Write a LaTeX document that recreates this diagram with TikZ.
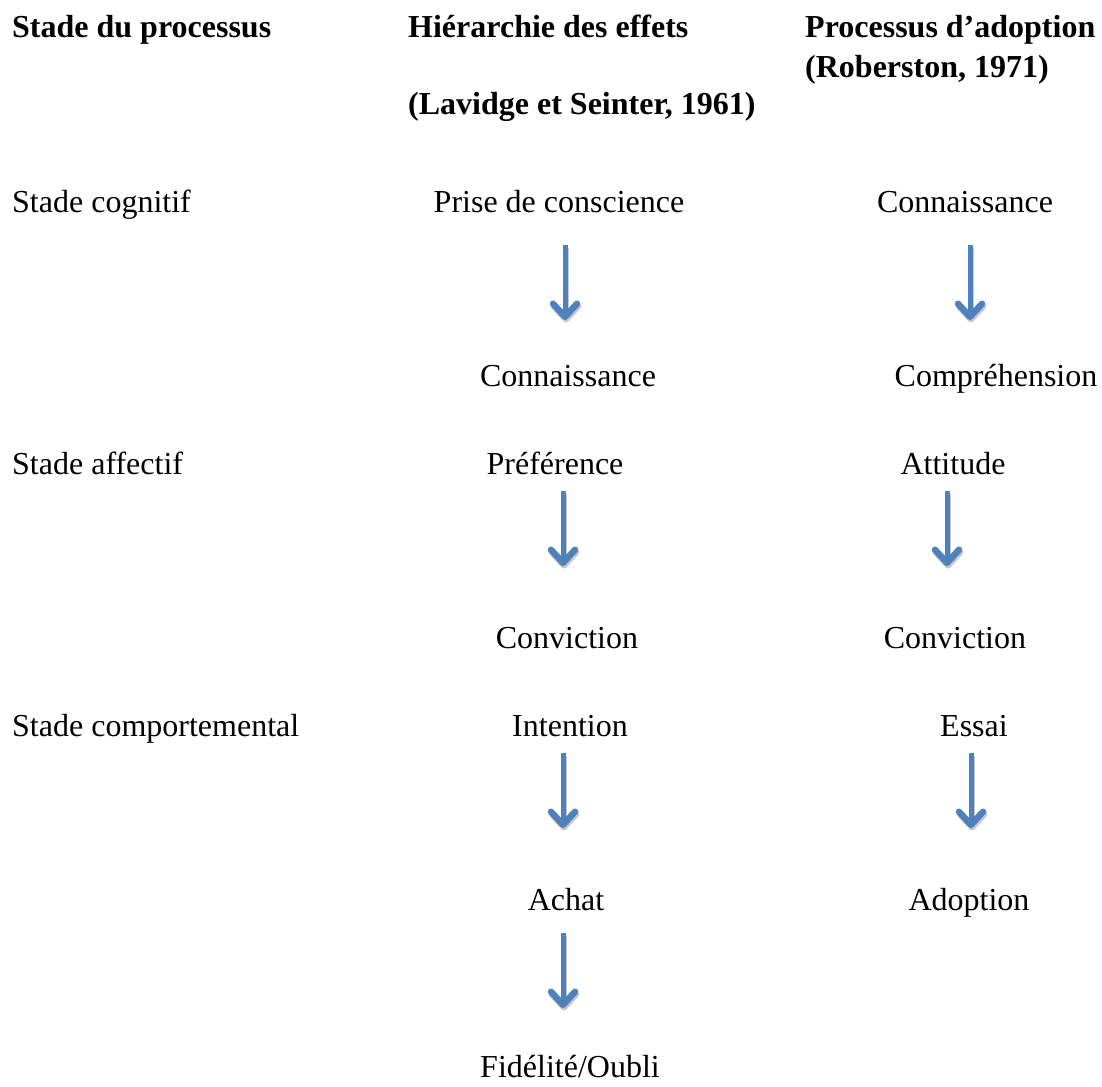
\documentclass[tikz,border=0pt]{standalone}
\usepackage{fontspec}
\setmainfont{Liberation Serif}
\usetikzlibrary{arrows.meta,calc}
\definecolor{arrblue}{HTML}{4F81BD}
\begin{document}
\begin{tikzpicture}[x=1pt,y=-1pt,
  txt/.style={inner sep=0pt,anchor=base,font=\fontsize{32}{38}\selectfont},
  lab/.style={txt,anchor=base west},
  hd/.style={lab,font=\fontsize{32}{38}\selectfont\bfseries},
  tip/.style={-{Straight Barb[length=13pt,width=24pt,line width=6.5pt,round]}},
  arr/.style={draw=arrblue,line width=5pt,tip,
    preaction={draw=black!22,line width=5pt,tip,transform canvas={shift={(1pt,-2.5pt)}}}}]
\useasboundingbox (0,0) rectangle (1102,1086);
% headers
\node[hd] (h1) at (12,38) {Stade du processus};
\node[hd] (h2) at (408,38) {Hiérarchie des effets};
\node[hd] (h3) at (408,115) {(Lavidge et Seinter, 1961)};
\node[hd] (h4) at (805,38) {Processus d’adoption};
\node[hd] (h5) at (805,78) {(Roberston, 1971)};
% stage labels
\node[lab] (s1) at (12,212) {Stade cognitif};
\node[lab] (s2) at (12,474) {Stade affectif};
\node[lab] (s3) at (12,736) {Stade comportemental};
% middle column
\node[txt] (m1) at (559,212) {Prise de conscience};
\node[txt] (m2) at (568,386) {Connaissance};
\node[txt] (m3) at (555,474) {Préférence};
\node[txt] (m4) at (567,648) {Conviction};
\node[txt] (m5) at (570,736) {Intention};
\node[txt] (m6) at (566,910) {Achat};
\node[txt] (m7) at (570,1077) {Fidélité/Oubli};
% right column
\node[txt] (r1) at (965,212) {Connaissance};
\node[txt] (r2) at (996,386) {Compréhension};
\node[txt] (r3) at (953,474) {Attitude};
\node[txt] (r4) at (955,648) {Conviction};
\node[txt] (r5) at (974,736) {Essai};
\node[txt] (r6) at (969,910) {Adoption};
% arrows
\draw[arr] ($(565,0 |- m1.base)+(0,33)$) -- ($(565,0 |- m2.base)+(0,-66)$);
\draw[arr] ($(970,0 |- r1.base)+(0,33)$) -- ($(970,0 |- r2.base)+(0,-66)$);
\draw[arr] ($(563,0 |- m3.base)+(0,17)$) -- ($(563,0 |- m4.base)+(0,-82)$);
\draw[arr] ($(947,0 |- r3.base)+(0,17)$) -- ($(947,0 |- r4.base)+(0,-82)$);
\draw[arr] ($(563,0 |- m5.base)+(0,17)$) -- ($(563,0 |- m6.base)+(0,-82)$);
\draw[arr] ($(971,0 |- r5.base)+(0,17)$) -- ($(971,0 |- r6.base)+(0,-82)$);
\draw[arr] ($(563,0 |- m6.base)+(0,23)$) -- ($(563,0 |- m7.base)+(0,-69)$);
\end{tikzpicture}
\end{document}
